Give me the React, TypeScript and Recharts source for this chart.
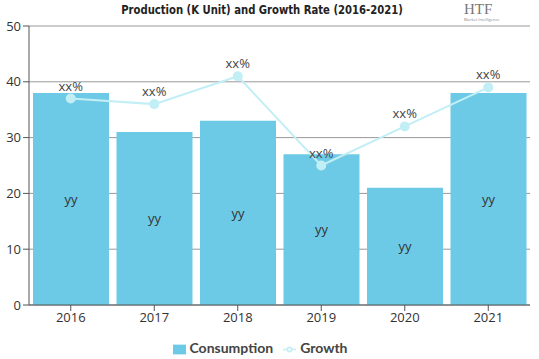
import React from 'react';
import {
  ComposedChart,
  Bar,
  Line,
  XAxis,
  YAxis,
  CartesianGrid,
  Legend,
  LabelList
} from 'recharts';

const years = ['2016', '2017', '2018', '2019', '2020', '2021'];
const consumption = [38, 31, 33, 27, 21, 38];
const growth = [37, 36, 41, 25, 32, 39];
const yTicks = [0, 10, 20, 30, 40, 50];

const data = years.map((year, i) => ({
  year,
  Consumption: consumption[i],
  Growth: growth[i]
}));

const font = '"Open Sans", "DejaVu Sans", sans-serif';

const App = () => {
  return (
    <div style={{ position: 'fixed', left: 0, top: 0, width: 539, height: 359, background: '#fff' }}>
      <div
        style={{
          position: 'absolute',
          top: 2,
          left: 0,
          width: 524,
          textAlign: 'center',
          fontFamily: '"DejaVu Sans Condensed", "DejaVu Sans", sans-serif',
          fontWeight: 900,
          fontSize: 13,
          color: '#222',
          transform: 'scaleX(0.86)',
          transformOrigin: '262px 0'
        }}
      >
        Production (K Unit) and Growth Rate (2016-2021)
      </div>
      <div style={{ position: 'absolute', top: 2, left: 464, fontFamily: 'serif', color: '#777', fontSize: 15, lineHeight: '15px' }}>
        HTF
        <div style={{ fontSize: 4, fontFamily: font, lineHeight: '5px', color: '#888' }}>Market Intelligence</div>
      </div>
      <ComposedChart
        width={539}
        height={359}
        data={data}
        margin={{ top: 26, right: 9, left: 0, bottom: 4 }}
        barCategoryGap={4}
      >
        <CartesianGrid vertical={false} stroke="#999" />
        <XAxis
          dataKey="year"
          height={24}
          tick={{ fill: '#333', fontSize: 13, fontFamily: font }}
          stroke="#555"
          tickLine={{ stroke: '#555' }}
        />
        <YAxis
          width={29}
          domain={[0, 50]}
          ticks={yTicks}
          tick={{ fill: '#333', fontSize: 13, fontFamily: font }}
          stroke="#555"
          interval={0}
        />
        <Legend
          height={26}
          iconSize={13}
          wrapperStyle={{ bottom: -6, fontFamily: '"Lato", sans-serif', fontSize: 14, fontWeight: 'bold', color: '#444' }}
          payload={[
            { value: 'Consumption', type: 'square', color: '#6dcae6' },
            { value: 'Growth', type: 'line', color: '#c2eef5' }
          ]}
          formatter={(value) => <span style={{ color: '#444' }}>{value}</span>}
        />
        <Bar dataKey="Consumption" fill="#6dcae6" isAnimationActive={false}>
          <LabelList
            dataKey="Consumption"
            position="center"
            formatter={() => 'yy'}
            fill="#333"
            fontSize={13}
            fontFamily={font}
          />
        </Bar>
        <Line
          dataKey="Growth"
          stroke="#c2eef5"
          strokeWidth={2}
          dot={{ r: 4, fill: '#c2eef5', stroke: '#c2eef5' }}
          isAnimationActive={false}
        >
          <LabelList
            dataKey="Growth"
            position="top"
            offset={8}
            formatter={() => 'xx%'}
            fill="#444"
            fontSize={13}
            fontFamily={font}
          />
        </Line>
      </ComposedChart>
    </div>
  );
};

export default App;
